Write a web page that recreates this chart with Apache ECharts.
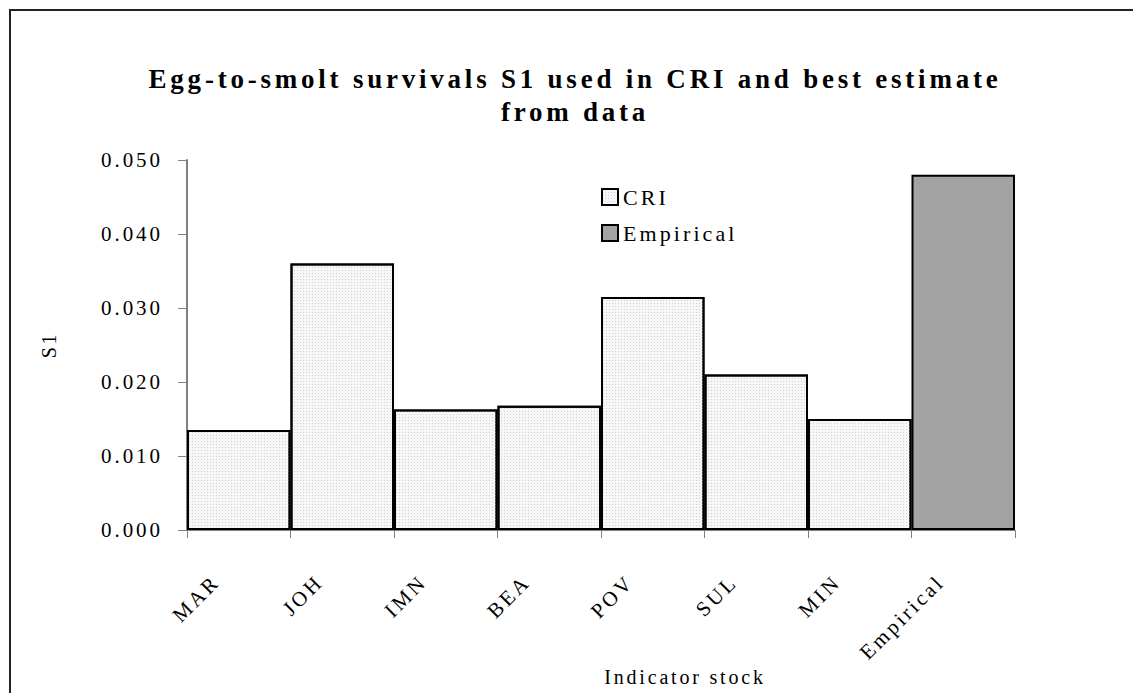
<!DOCTYPE html>
<html>
<head>
<meta charset="utf-8">
<title>Egg-to-smolt survivals S1</title>
<script src="https://cdn.jsdelivr.net/npm/echarts@6/dist/echarts.min.js"></script>
<style>
    html, body { margin: 0; padding: 0; background: #fff; }
    #chart { width: 1133px; height: 693px; }
    /* old Excel export spreads the letters out */
    #chart text { letter-spacing: 0.14em; }
</style>
</head>
<body>
<div id="chart"></div>
<script>
const stocks = ['MAR', 'JOH', 'IMN', 'BEA', 'POV', 'SUL', 'MIN', 'Empirical'];
const criValues = [0.0135, 0.0360, 0.0163, 0.0168, 0.0315, 0.0210, 0.0150, '-'];
const empiricalValues = ['-', '-', '-', '-', '-', '-', '-', 0.0480];
const yTicks = { min: 0, max: 0.05, step: 0.01 };

document.addEventListener('DOMContentLoaded', function () {
    const serif = '"Liberation Serif", "Times New Roman", serif';
    const chart = echarts.init(document.getElementById('chart'), null, { renderer: 'svg' });
    const option = {
        animation: false,
        backgroundColor: '#fff',
        textStyle: { fontFamily: serif, color: '#000' },
        title: {
            text: 'Egg-to-smolt survivals S1 used in CRI and best estimate\nfrom data',
            left: 570,
            top: 57,
            textAlign: 'center',
            textStyle: {
                fontFamily: serif,
                fontSize: 27,
                fontWeight: 'bold',
                lineHeight: 33,
                color: '#000'
            }
        },
        graphic: [{
            type: 'rect',
            shape: { x: 10, y: 10, width: 1200, height: 800 },
            style: { fill: 'none', stroke: '#222', lineWidth: 2 },
            silent: true
        }],
        legend: {
            orient: 'vertical',
            left: 596,
            top: 181,
            itemWidth: 16,
            itemHeight: 16,
            itemGap: 14,
            icon: 'rect',
            textStyle: { fontFamily: serif, fontSize: 22, color: '#000' },
            data: ['CRI', 'Empirical']
        },
        grid: {
            left: 187,
            right: 118,
            top: 160,
            bottom: 163,
            outerBoundsMode: 'none'
        },
        xAxis: {
            type: 'category',
            data: stocks,
            boundaryGap: true,
            name: 'Indicator stock',
            nameLocation: 'middle',
            nameGap: 137,
            nameTextStyle: { fontFamily: serif, fontSize: 20, color: '#000', padding: [0, 0, 0, 168] },
            axisLine: { lineStyle: { color: '#808080', width: 1 } },
            axisTick: { show: true, length: 8, interval: 0, lineStyle: { color: '#808080' } },
            axisLabel: {
                interval: 0,
                rotate: 45,
                margin: 26,
                padding: [0, 32, 0, 0],
                fontFamily: serif,
                fontSize: 21,
                color: '#000'
            },
            splitLine: { show: false }
        },
        yAxis: {
            type: 'value',
            min: yTicks.min,
            max: yTicks.max,
            interval: yTicks.step,
            name: 'S1',
            nameLocation: 'middle',
            nameGap: 128,
            nameRotate: 90,
            nameTextStyle: { fontFamily: serif, fontSize: 20, color: '#000' },
            axisLine: { show: true, lineStyle: { color: '#808080', width: 2 } },
            axisTick: { show: true, length: 9, lineStyle: { color: '#808080' } },
            axisLabel: {
                margin: 24,
                fontFamily: serif,
                fontSize: 21,
                color: '#000',
                formatter: function (v) { return v.toFixed(3); }
            },
            splitLine: { show: false }
        },
        series: [
            {
                name: 'CRI',
                type: 'bar',
                data: criValues,
                barGap: '-100%',
                barCategoryGap: 0,
                itemStyle: {
                    color: '#f7f7f7',
                    borderColor: '#000',
                    borderWidth: 2,
                    decal: {
                        symbol: 'rect',
                        symbolSize: 1,
                        dashArrayX: [1, 2],
                        dashArrayY: [1, 2],
                        color: '#cfcfcf'
                    }
                }
            },
            {
                name: 'Empirical',
                type: 'bar',
                data: empiricalValues,
                barGap: '-100%',
                barCategoryGap: 0,
                itemStyle: {
                    color: '#a3a3a3',
                    borderColor: '#000',
                    borderWidth: 2
                }
            }
        ]
    };
    chart.setOption(option);
    window.addEventListener('resize', function () {
        chart.resize();
    });
});
</script>
</body>
</html>
